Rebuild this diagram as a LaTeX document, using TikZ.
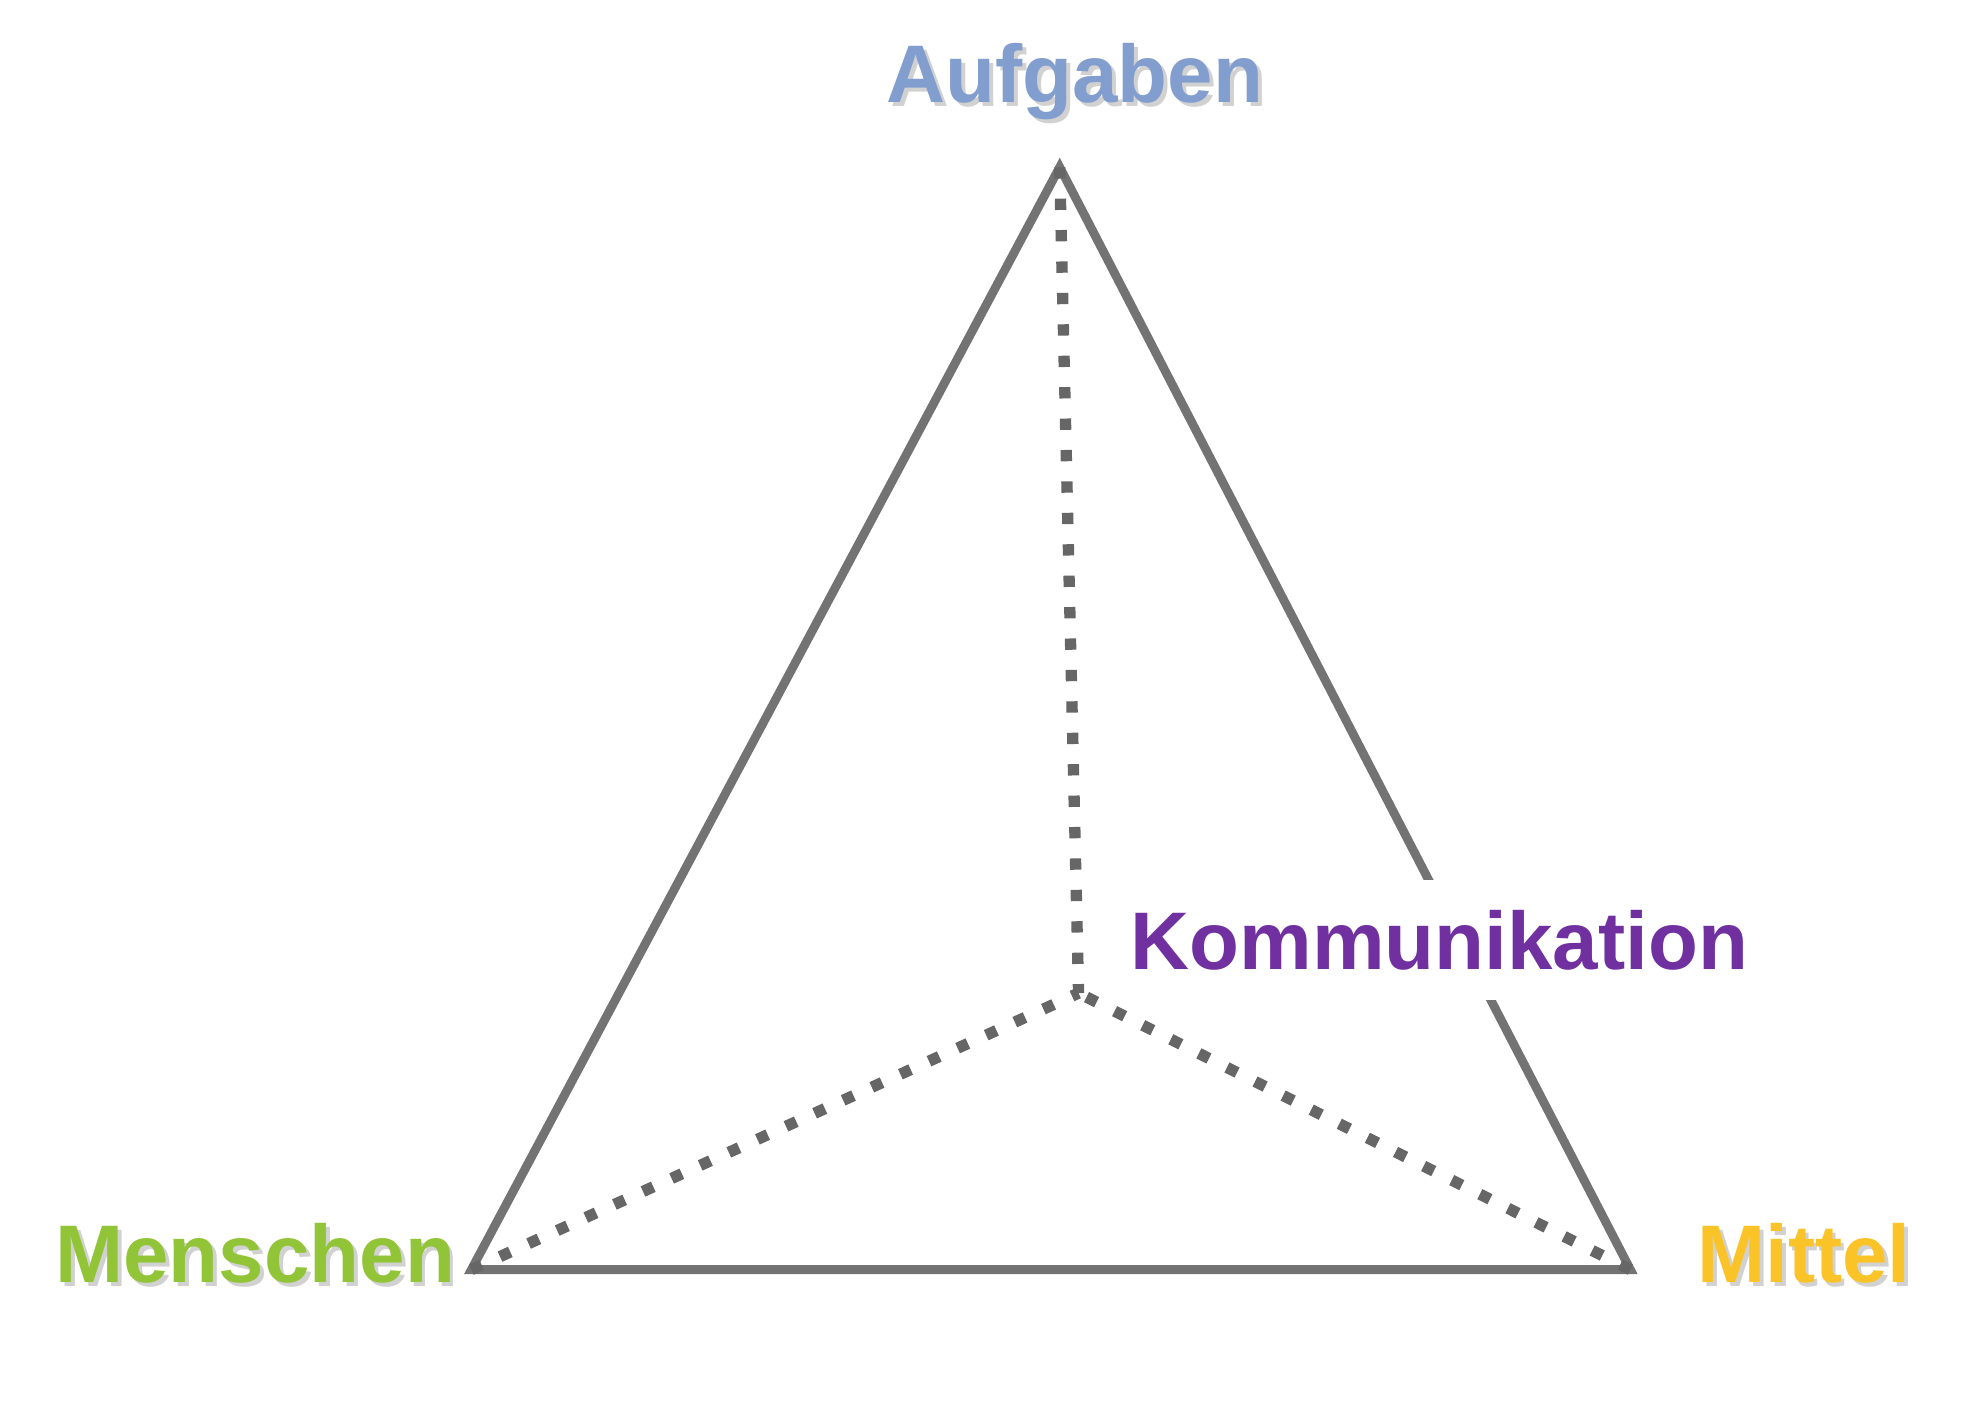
\documentclass[tikz,border=0pt]{standalone}
\usepackage{fontspec}
\setmainfont{Liberation Sans}
\begin{document}
\begin{tikzpicture}[x=1pt,y=-1pt,
  lab/.style={font=\fontsize{65}{72}\selectfont\bfseries,inner sep=4pt},
  shad/.style={lab,text=black!18},
  edge/.style={draw=black!55,line width=7pt,line join=miter},
  dots/.style={draw=black!60,line width=9pt,dash pattern=on 9pt off 16pt}]
\useasboundingbox (0,0) rectangle (1560,1120);
\coordinate (A) at (843,133);
\coordinate (M) at (375,1010);
\coordinate (R) at (1297,1010);
\coordinate (C) at (858,790);
\draw[edge] (A) -- (M) -- (R) -- cycle;
\draw[dots] (A) -- (C);
\draw[dots] (M) -- (C);
\draw[dots] (R) -- (C);
\node[shad] at (858,68) {Aufgaben};
\node[lab,text={rgb,255:red,130;green,158;blue,206}] (ta) at (855,65) {Aufgaben};
\node[lab,fill=white,text={rgb,255:red,112;green,48;blue,160},inner xsep=6pt,inner ysep=24pt] (tk) at (1145,748) {Kommunikation};
\node[shad] at (206,1000) {Menschen};
\node[lab,text={rgb,255:red,146;green,196;blue,56}] (tm) at (203,997) {Menschen};
\node[shad] at (1438,1000) {Mittel};
\node[lab,text={rgb,255:red,250;green,196;blue,40}] (tr) at (1435,997) {Mittel};
\end{tikzpicture}
\end{document}
